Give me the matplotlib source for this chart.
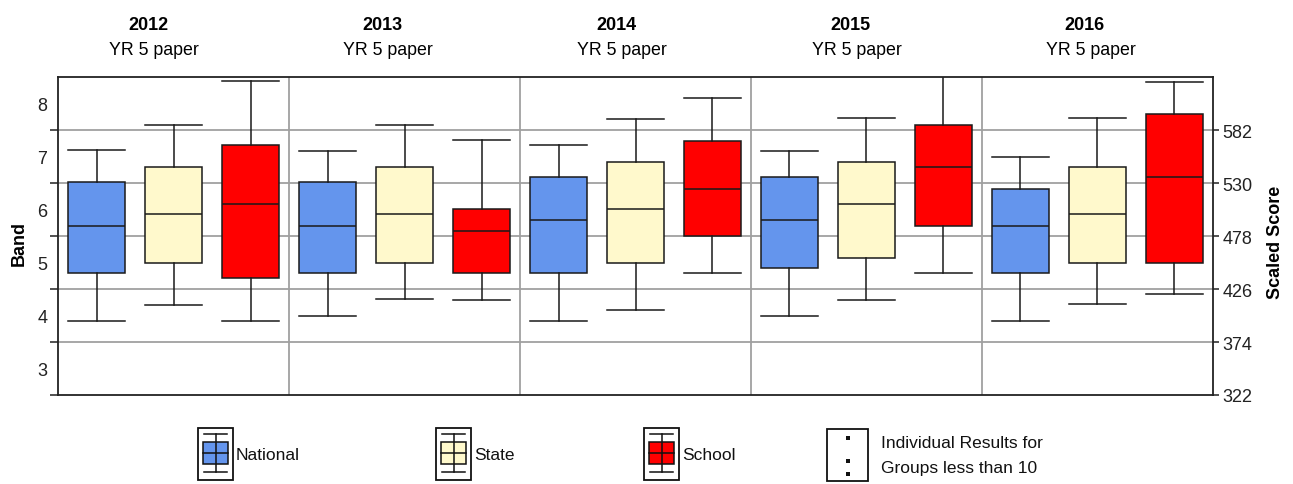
import matplotlib
matplotlib.use('Agg')
import matplotlib.pyplot as plt
from matplotlib.patches import Rectangle
from matplotlib.ticker import FixedLocator, FixedFormatter, NullFormatter

plt.rcParams['font.family'] = ['Liberation Sans', 'DejaVu Sans']

years = ['2012', '2013', '2014', '2015', '2016']
subtitle = 'YR 5 paper'
series_names = ['National', 'State', 'School']
series_colors = ['#6495ED', '#FFF9CC', '#FF0000']

# each entry: [whisker low, Q1, median, Q3, whisker high] in scaled score
national = [[394.6, 442, 488, 531, 562.3],
            [399.5, 442, 488, 531, 562],
            [394.6, 442, 493.4, 535.7, 567.5],
            [399.5, 447, 493.4, 535.7, 562],
            [394.6, 442, 488, 524.5, 555.4]]
state = [[410.6, 452, 500, 546, 587],
         [416, 452, 500, 546, 587],
         [405.7, 451.7, 504.5, 550.8, 593.5],
         [415.6, 457, 509.4, 550.8, 593.8],
         [411, 452, 499.6, 545.5, 593.8]]
school = [[394.6, 437, 510, 567.5, 630],
          [415.6, 442, 483, 504.5, 572],
          [442, 478.3, 524.2, 571.8, 613.5],
          [442, 488, 546, 587, 645],
          [420.8, 452, 536, 598.4, 629.6]]

score_ticks = [322, 374, 426, 478, 530, 582]
band_labels = ['3', '4', '5', '6', '7', '8']
y_min, y_max = 322, 634

W, H = 1293, 485
fig = plt.figure(figsize=(W / 100, H / 100), dpi=100)
x0, x1, yt, yb = 58.3, 1212.7, 78.3, 396
ax = fig.add_axes([x0 / W, 1 - yb / H, (x1 - x0) / W, (yb - yt) / H])

n_years = len(years)
n_ser = len(series_names)
grid_c = '#a0a0a0'
edge_c = '#1a1a1a'

for s, data in enumerate([national, state, school]):
    stats = []
    for row in data:
        lo, q1, med, q3, hi = row
        stats.append(dict(whislo=lo, q1=q1, med=med, q3=q3, whishi=hi, fliers=[]))
    positions = [i * n_ser + s + 0.5 for i in range(n_years)]
    ax.bxp(stats, positions=positions, widths=0.74, capwidths=0.74,
           patch_artist=True, showfliers=False, manage_ticks=False,
           boxprops=dict(facecolor=series_colors[s], edgecolor=edge_c, linewidth=1.1),
           medianprops=dict(color=edge_c, linewidth=1.1),
           whiskerprops=dict(color=edge_c, linewidth=1.1),
           capprops=dict(color=edge_c, linewidth=1.1))

for t in score_ticks[1:]:
    ax.axhline(t, color=grid_c, lw=1.3, zorder=0)
for i in range(1, n_years):
    ax.axvline(i * n_ser, color=grid_c, lw=1.3, zorder=0)

ax.set_xlim(0, n_years * n_ser)
ax.set_ylim(y_min, y_max)
ax.set_xticks([])
for sp in ax.spines.values():
    sp.set_color('#222222')
    sp.set_linewidth(1.3)

ax.yaxis.set_major_locator(FixedLocator(score_ticks))
ax.yaxis.set_major_formatter(NullFormatter())
ax.yaxis.set_minor_locator(FixedLocator([t + 26 for t in score_ticks]))
ax.yaxis.set_minor_formatter(FixedFormatter(band_labels))
ax.tick_params(axis='y', which='major', length=5.5, width=1.1, color='#222222', direction='out')
ax.tick_params(axis='y', which='minor', length=0, pad=8, labelsize=13, labelcolor='#222222')

ax2 = ax.twinx()
ax2.set_ylim(y_min, y_max)
ax2.set_yticks(score_ticks)
ax2.set_yticklabels([str(t) for t in score_ticks])
ax2.tick_params(axis='y', length=4.2, width=1.1, color='#222222', pad=3, labelsize=13, labelcolor='#222222')
for sp in ax2.spines.values():
    sp.set_visible(False)

fig.text(19.5 / W, 1 - 243 / H, 'Band', rotation=90, ha='center', va='center',
         fontsize=13, fontweight='bold')
fig.text(1276 / W, 1 - 242 / H, 'Scaled Score', rotation=90, ha='center', va='center',
         fontsize=13, fontweight='bold')

for i, yr in enumerate(years):
    xb = 148 + i * 234.2
    fig.text(xb / W, 1 - 30 / H, yr, ha='center', va='baseline', fontsize=13, fontweight='bold')
    fig.text((xb + 6) / W, 1 - 55 / H, subtitle, ha='center', va='baseline', fontsize=12.8)

# legend drawn in pixel space
lax = fig.add_axes([0, 0, 1, 1])
lax.set_xlim(0, W)
lax.set_ylim(H, 0)
lax.axis('off')
lax.patch.set_alpha(0)

icon_x = [198, 436, 644]
for name, col, lx in zip(series_names, series_colors, icon_x):
    lax.add_patch(Rectangle((lx, 429), 35, 52, fill=False, edgecolor='#111111', lw=1.3))
    cx = lx + 17.5
    lax.plot([cx, cx], [435, 473], color='#111111', lw=1.1)
    lax.plot([lx + 6, lx + 29], [435, 435], color='#111111', lw=1.1)
    lax.plot([lx + 6, lx + 29], [473, 473], color='#111111', lw=1.1)
    lax.add_patch(Rectangle((lx + 5, 443), 25, 22, facecolor=col, edgecolor='#111111', lw=1.1))
    lax.plot([lx + 5, lx + 30], [454, 454], color='#111111', lw=1.1)
    lax.text(lx + 38, 456, name, ha='left', va='center', fontsize=12.5, color='#111111')

lax.add_patch(Rectangle((827, 430), 41, 52, fill=False, edgecolor='#111111', lw=1.3))
for dy in [439, 462, 475]:
    lax.add_patch(Rectangle((846, dy - 2), 4, 4, facecolor='#111111', edgecolor='none'))
lax.text(881, 444, 'Individual Results for', ha='left', va='center', fontsize=12.5, color='#111111')
lax.text(881, 469, 'Groups less than 10', ha='left', va='center', fontsize=12.5, color='#111111')

fig.savefig('out.png', dpi=100)
